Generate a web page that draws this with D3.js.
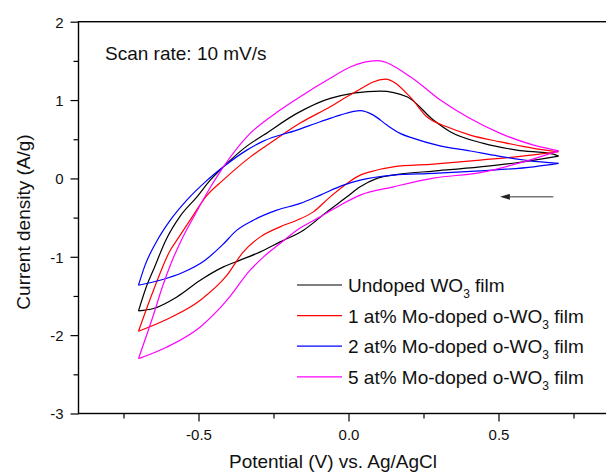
<!DOCTYPE html>
<html>
<head>
<meta charset="utf-8">
<script src="https://cdn.jsdelivr.net/npm/d3@7"></script>
<style>
  body { margin: 0; background: #fff; }
  svg { display: block; font-family: "Liberation Sans", Arial, sans-serif; }
</style>
</head>
<body>
<svg id="chart" width="606" height="475"></svg>
<script>
// axis ticks
var xMajorTicks = [-0.5, 0, 0.5];
var xMinorTicks = [-0.75, -0.25, 0.25, 0.75];
var yMajorTicks = [-3, -2, -1, 0, 1, 2];
var yMinorTicks = [-2.5, -1.5, -0.5, 0.5, 1.5];

var legendNames = ["Undoped WO", "1 at% Mo-doped o-WO", "2 at% Mo-doped o-WO", "5 at% Mo-doped o-WO"];
var seriesColors = ["#000000", "#ff0000", "#0000ff", "#ff00ff"];

// [potential V, current A/g] - anodic sweep (-0.7 -> 0.7) then cathodic sweep back
var undopedFwd = [[-0.70,-1.69],[-0.672,-1.363],[-0.648,-1.146],[-0.609,-0.788],[-0.561,-0.481],[-0.505,-0.235],
  [-0.461,-0.022],[-0.417,0.148],[-0.339,0.412],[-0.283,0.553],[-0.172,0.830],[-0.061,1.022],[0.106,1.115],
  [0.195,1.042],[0.283,0.745],[0.339,0.595],[0.45,0.447],[0.561,0.361],[0.683,0.310],[0.70,0.285]];
var undopedRev = [[0.70,0.285],[0.561,0.200],[0.439,0.148],[0.283,0.093],[0.172,0.055],[0.095,0.0],[0.039,-0.107],
  [-0.005,-0.235],[-0.072,-0.427],[-0.150,-0.660],[-0.228,-0.810],[-0.294,-0.937],[-0.361,-1.043],[-0.417,-1.129],
  [-0.494,-1.299],[-0.572,-1.512],[-0.650,-1.660],[-0.70,-1.69]];

var mo1Fwd = [[-0.70,-1.95],[-0.650,-1.427],[-0.594,-0.916],[-0.572,-0.788],[-0.528,-0.533],[-0.474,-0.226],
  [-0.418,-0.022],[-0.328,0.272],[-0.261,0.451],[-0.161,0.706],[-0.061,0.914],[0.016,1.089],[0.122,1.268],
  [0.206,1.038],[0.261,0.787],[0.328,0.659],[0.406,0.553],[0.506,0.467],[0.617,0.383],[0.70,0.340]];
var mo1Rev = [[0.70,0.340],[0.617,0.300],[0.439,0.234],[0.283,0.183],[0.149,0.148],[0.072,0.084],[0.039,0.042],
  [-0.005,-0.064],[-0.061,-0.235],[-0.117,-0.427],[-0.172,-0.533],[-0.228,-0.618],[-0.294,-0.746],[-0.354,-0.954],
  [-0.405,-1.235],[-0.494,-1.554],[-0.605,-1.797],[-0.70,-1.95]];

var mo2Fwd = [[-0.70,-1.363],[-0.678,-1.107],[-0.641,-0.814],[-0.594,-0.533],[-0.539,-0.277],[-0.478,-0.047],
  [-0.417,0.148],[-0.339,0.361],[-0.284,0.476],[-0.172,0.617],[-0.094,0.723],[-0.028,0.808],[0.039,0.866],
  [0.083,0.808],[0.128,0.681],[0.172,0.575],[0.217,0.511],[0.295,0.425],[0.406,0.350],[0.50,0.285],
  [0.60,0.228],[0.70,0.192]];
var mo2Rev = [[0.70,0.192],[0.617,0.148],[0.439,0.097],[0.283,0.064],[0.150,0.042],[0.039,-0.022],[-0.017,-0.086],
  [-0.094,-0.213],[-0.161,-0.319],[-0.239,-0.405],[-0.317,-0.533],[-0.372,-0.660],[-0.421,-0.852],[-0.478,-1.043],
  [-0.551,-1.197],[-0.628,-1.299],[-0.70,-1.363]];

var mo5Fwd = [[-0.70,-2.30],[-0.65,-1.74],[-0.62,-1.38],[-0.59,-1.07],[-0.56,-0.81],[-0.51,-0.45],
  [-0.46,-0.11],[-0.417,0.148],[-0.339,0.531],[-0.228,0.872],[-0.161,1.042],[-0.061,1.277],[0.006,1.421],
  [0.095,1.502],[0.206,1.298],[0.306,1.0],[0.395,0.787],[0.506,0.575],[0.617,0.425],[0.70,0.352]];
var mo5Rev = [[0.70,0.352],[0.617,0.250],[0.439,0.074],[0.283,0.004],[0.150,-0.107],[0.039,-0.213],
  [-0.017,-0.319],[-0.094,-0.490],[-0.172,-0.660],[-0.228,-0.830],[-0.283,-1.001],[-0.328,-1.171],[-0.405,-1.554],
  [-0.494,-1.895],[-0.605,-2.151],[-0.70,-2.30]];

var sweeps = [[undopedFwd, undopedRev], [mo1Fwd, mo1Rev], [mo2Fwd, mo2Rev], [mo5Fwd, mo5Rev]];

// scan direction arrow [V, I]
var arrowFrom = [0.683, -0.235];
var arrowTo = [0.508, -0.235];

var svg = d3.select("#chart");

var x = d3.scaleLinear().domain([-0.9, 0.9]).range([78.5, 618.5]);
var y = d3.scaleLinear().domain([-3, 2]).range([413.5, 21.7]);

// frame
svg.append("rect")
  .attr("x", x(-0.9)).attr("y", y(2))
  .attr("width", x(0.9) - x(-0.9)).attr("height", y(-3) - y(2))
  .attr("fill", "none").attr("stroke", "#000").attr("stroke-width", 1.4);

// x axis - major ticks with labels, minor ticks without
var xAxis = svg.append("g").attr("transform", "translate(0," + y(-3) + ")");
xAxis.call(d3.axisBottom(x).tickValues(xMajorTicks).tickSize(8).tickFormat(d => d3.format(".1f")(d).replace("−", "-")));
xAxis.selectAll("text")
  .attr("y", 26)
  .attr("dy", 0)
  .style("font-size", "15px")
  .style("font-family", "Liberation Sans, Arial, sans-serif")
  .attr("fill", "#111");
var xMinor = svg.append("g").attr("transform", "translate(0," + y(-3) + ")");
xMinor.call(d3.axisBottom(x).tickValues(xMinorTicks).tickSize(5).tickFormat(""));

// y axis
var yAxis = svg.append("g").attr("transform", "translate(" + x(-0.9) + ",0)");
yAxis.call(d3.axisLeft(y).tickValues(yMajorTicks).tickSize(8).tickFormat(d => String(d)));
yAxis.selectAll("text")
  .attr("x", -15)
  .attr("dy", "0.36em")
  .style("font-size", "15px")
  .style("font-family", "Liberation Sans, Arial, sans-serif")
  .attr("fill", "#111");
var yMinor = svg.append("g").attr("transform", "translate(" + x(-0.9) + ",0)");
yMinor.call(d3.axisLeft(y).tickValues(yMinorTicks).tickSize(5).tickFormat(""));
svg.selectAll(".domain").remove();
svg.selectAll(".tick line").attr("stroke", "#000").attr("stroke-width", 1.2);

// axis titles
svg.append("text")
  .attr("x", 333).attr("y", 468)
  .attr("text-anchor", "middle")
  .style("font-size", "19px")
  .attr("fill", "#111")
  .text("Potential (V) vs. Ag/AgCl");

svg.append("text")
  .attr("transform", "translate(30,222) rotate(-90)")
  .attr("text-anchor", "middle")
  .style("font-size", "19px")
  .attr("fill", "#111")
  .text("Current density (A/g)");

svg.append("text")
  .attr("x", 105).attr("y", 60)
  .style("font-size", "19px")
  .attr("fill", "#111")
  .text("Scan rate: 10 mV/s");

// curves
var line = d3.line()
  .x(d => x(d[0]))
  .y(d => y(d[1]))
  .curve(d3.curveMonotoneX);

sweeps.forEach((pair, i) => {
  pair.forEach(branch => {
    svg.append("path")
      .attr("d", line(branch))
      .attr("fill", "none")
      .attr("stroke", seriesColors[i])
      .attr("stroke-width", 1.2);
  });
});

// arrow
svg.append("defs").append("marker")
  .attr("id", "head")
  .attr("viewBox", "0 0 10 6")
  .attr("refX", 0).attr("refY", 3)
  .attr("markerWidth", 10).attr("markerHeight", 6)
  .attr("markerUnits", "userSpaceOnUse")
  .attr("orient", "auto-start-reverse")
  .append("path")
  .attr("d", "M0,0 L10,3 L0,6 Z")
  .attr("fill", "#222");

svg.append("line")
  .attr("x1", x(arrowFrom[0])).attr("y1", y(arrowFrom[1]))
  .attr("x2", x(arrowTo[0]) + 9).attr("y2", y(arrowTo[1]))
  .attr("stroke", "#333").attr("stroke-width", 1)
  .attr("marker-end", "url(#head)");

// legend
var legend = svg.append("g");
legendNames.forEach((name, i) => {
  var ly = 285 + i * 30.6;
  legend.append("line")
    .attr("x1", 297).attr("x2", 342)
    .attr("y1", ly).attr("y2", ly)
    .attr("stroke", seriesColors[i]).attr("stroke-width", 1.2);
  var t = legend.append("text")
    .attr("x", 348).attr("y", ly + 7)
    .style("font-size", "19px")
    .attr("fill", "#111");
  t.append("tspan").text(name);
  t.append("tspan").attr("dy", 6).style("font-size", "12px").text("3");
  t.append("tspan").attr("dy", -6).text(" film");
});
</script>
</body>
</html>
